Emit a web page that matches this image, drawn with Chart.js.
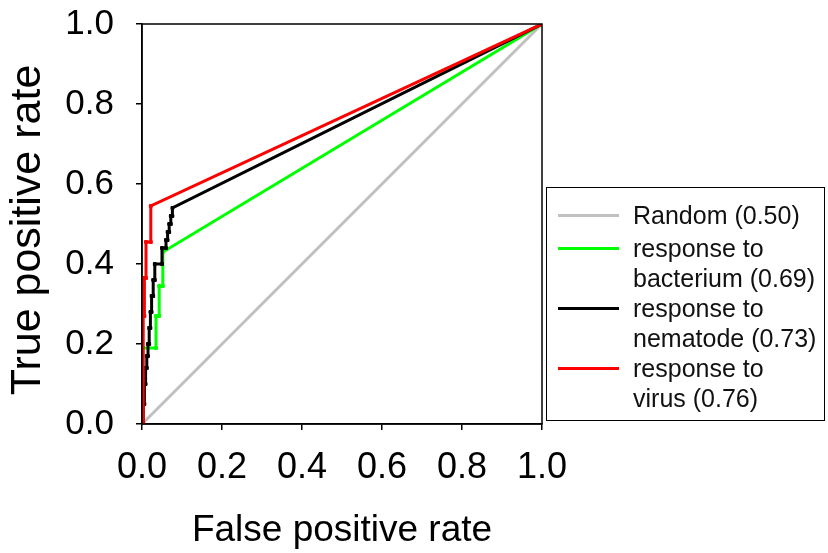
<!DOCTYPE html>
<html>
<head>
<meta charset="utf-8">
<script src="https://cdn.jsdelivr.net/npm/chart.js@4"></script>
<style>
  html, body { margin: 0; padding: 0; background: #fff; }
  #wrap { position: relative; width: 828px; height: 553px; }
  #legend {
    position: absolute; left: 546px; top: 187px; width: 279px; height: 234px;
    border: 1.5px solid #000;
    font-family: "Liberation Sans", Arial, sans-serif; font-size: 25px; line-height: 30px; color: #111;
    padding-top: 12px; box-sizing: border-box;
  }
  .row { display: flex; align-items: flex-start; }
  .row:first-child { margin-bottom: 3px; }
  .sw { width: 61px; height: 3px; margin: 14px 14px 0 11px; flex: none; }
</style>
</head>
<body>
<div id="wrap">
  <canvas id="roc" width="828" height="553"></canvas>
  <div id="legend"></div>
</div>
<script>
// ROC curves, values
const tickLabels = ['0.0', '0.2', '0.4', '0.6', '0.8', '1.0'];

const randomFpr = [0, 1];
const randomTpr = [0, 1];

const bacteriumFpr = [0, 0.002, 0.002, 0.035, 0.035, 0.043, 0.043, 0.052, 0.052, 1];
const bacteriumTpr = [0, 0.03, 0.19, 0.19, 0.27, 0.27, 0.345, 0.345, 0.43, 1];

const nematodeFpr = [0, 0.003, 0.003, 0.006, 0.006, 0.009, 0.009, 0.012, 0.012, 0.015, 0.015, 0.018, 0.018,
  0.021, 0.021, 0.024, 0.024, 0.028, 0.028, 0.032, 0.032, 0.05, 0.05, 0.06, 0.06, 0.064, 0.064, 0.068, 0.068,
  0.072, 0.072, 0.076, 0.076, 1];
const nematodeTpr = [0, 0, 0.05, 0.05, 0.1, 0.1, 0.14, 0.14, 0.17, 0.17, 0.2, 0.2, 0.24,
  0.24, 0.28, 0.28, 0.32, 0.32, 0.36, 0.36, 0.4, 0.4, 0.44, 0.44, 0.46, 0.46, 0.48, 0.48, 0.5,
  0.5, 0.52, 0.52, 0.54, 1];

const virusFpr = [0, 0.003, 0.003, 0.006, 0.006, 0.01, 0.01, 0.022, 0.022, 1];
const virusTpr = [0, 0, 0.27, 0.27, 0.365, 0.365, 0.455, 0.455, 0.545, 1];

const seriesNames = ['Random (0.50)', 'response to\nbacterium (0.69)', 'response to\nnematode (0.73)', 'response to\nvirus (0.76)'];
const seriesColors = ['#c0c0c0', '#00ff00', '#000000', '#ff0000'];

function pts(xs, ys){ return xs.map((x, i) => ({ x, y: ys[i] })); }

const FONT = '"Liberation Sans", Arial, sans-serif';

// box around the plot area (SigmaPlot style frame)
const framePlugin = {
  id: 'frame',
  afterDraw(chart){
    const a = chart.chartArea, ctx = chart.ctx;
    ctx.save();
    ctx.strokeStyle = '#000';
    ctx.lineWidth = 1.5;
    ctx.strokeRect(a.left, a.top, a.right - a.left, a.bottom - a.top);
    ctx.restore();
  }
};

function ds(i, xs, ys, markers, order){
  return {
    label: seriesNames[i],
    data: pts(xs, ys),
    borderColor: seriesColors[i],
    backgroundColor: seriesColors[i],
    borderWidth: 3,
    pointRadius: markers ? 2 : 0,
    pointStyle: 'rect',
    pointBorderWidth: 1,
    tension: 0,
    order
  };
}

const axisCommon = {
  type: 'linear', min: 0, max: 1,
  grid: { drawOnChartArea: false, drawTicks: true, tickLength: 6, color: '#000', lineWidth: 1.5 },
  border: { display: true, color: '#000', width: 1.5 }
};

new Chart(document.getElementById('roc'), {
  type: 'line',
  data: {
    datasets: [
      ds(0, randomFpr, randomTpr, false, 4),
      ds(1, bacteriumFpr, bacteriumTpr, true, 3),
      ds(2, nematodeFpr, nematodeTpr, true, 2),
      ds(3, virusFpr, virusTpr, true, 1)
    ]
  },
  options: {
    responsive: false,
    animation: false,
    devicePixelRatio: 1,
    layout: { padding: { left: 0, top: 24, right: 286, bottom: 0 } },
    plugins: { legend: { display: false }, tooltip: { enabled: false } },
    scales: {
      x: {
        ...axisCommon,
        position: 'bottom',
        ticks: { stepSize: 0.2, padding: 16, color: '#000', font: { family: FONT, size: 36 },
          maxRotation: 0, callback: (v, i) => tickLabels[i] },
        title: { display: true, text: 'False positive rate', color: '#000', font: { family: FONT, size: 37 },
          padding: { top: 0, bottom: 0 } },
        afterFit(s){ s.height = 129; s.paddingLeft = 0; s.paddingRight = 0; }
      },
      y: {
        ...axisCommon,
        position: 'left',
        ticks: { stepSize: 0.2, padding: 22, color: '#000', font: { family: FONT, size: 35 },
          callback: (v, i) => tickLabels[i] },
        title: { display: true, text: 'True positive rate ', color: '#000', font: { family: FONT, size: 43 },
          padding: { top: 2, bottom: 0 } },
        afterFit(s){ s.width = 142; s.paddingTop = 0; s.paddingBottom = 0; }
      }
    }
  },
  plugins: [framePlugin]
});

// legend with wrapped labels
const legendEl = document.getElementById('legend');
seriesNames.forEach((name, i) => {
  const row = document.createElement('div');
  row.className = 'row';
  const sw = document.createElement('div');
  sw.className = 'sw';
  sw.style.background = seriesColors[i];
  const txt = document.createElement('div');
  txt.innerHTML = name.split('\n').join('<br>');
  row.appendChild(sw);
  row.appendChild(txt);
  legendEl.appendChild(row);
});
</script>
</body>
</html>
